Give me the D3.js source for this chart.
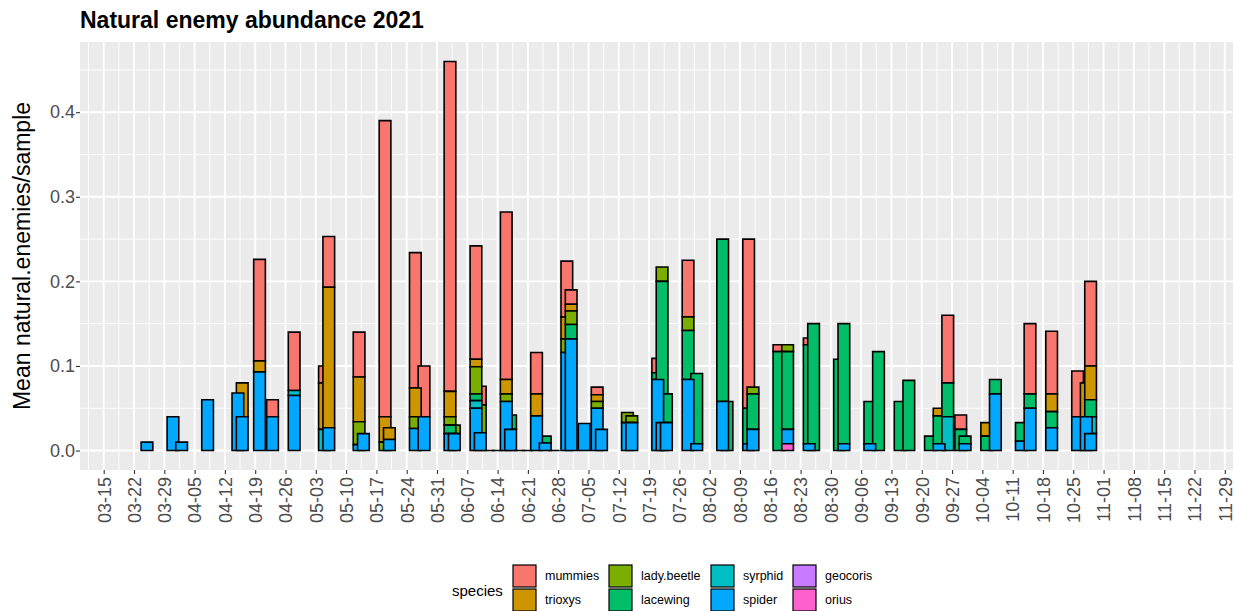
<!DOCTYPE html>
<html>
<head>
<meta charset="utf-8">
<script src="https://cdn.jsdelivr.net/npm/d3@7"></script>
<style>
  html, body { margin: 0; padding: 0; background: #fff; }
  svg { display: block; font-family: "Liberation Sans", Arial, sans-serif; }
</style>
</head>
<body>
<svg id="chart" width="1235" height="611"></svg>
<script>
// Sampling dates (2021) and mean natural enemies per sample for each species
const dates = [
  "03-25","03-31","04-02","04-08","04-15","04-16","04-20","04-23","04-28","05-05",
  "05-06","05-13","05-14","05-19","05-20","05-26","05-28","06-03","06-04","06-09",
  "06-10","06-12","06-14","06-16","06-17","06-19","06-21","06-23","06-25","06-27",
  "06-30","07-01","07-04","07-07","07-08","07-14","07-15","07-21","07-22","07-23",
  "07-28","07-30","08-05","08-06","08-11","08-12","08-18","08-20","08-25","08-26",
  "09-01","09-02","09-08","09-10","09-15","09-17","09-22","09-24","09-26","09-29",
  "09-30","10-05","10-07","10-13","10-15","10-20","10-26","10-28","10-29"
];
const mummies = [
  0,0,0,0,0,0,0.120,0.020,0.069,0.020,
  0.060,0.053,0,0.350,0,0.160,0.060,0.390,0,0.134,
  0.022,0,0,0.198,0,0,0,0.049,0,0,
  0.066,0.017,0,0.009,0,0,0,0.017,0,0,
  0.067,0,0,0,0.200,0,0.008,0,0.008,0,
  0,0,0,0,0,0,0,0,0.080,0.017,
  0,0,0,0,0.083,0.074,0.054,0,0.100
];
const trioxys = [
  0,0,0,0,0,0.040,0.013,0,0,0.055,
  0.166,0.053,0,0.030,0.014,0.034,0,0.030,0,0.009,
  0,0,0,0.017,0,0,0,0.026,0,0,
  0.026,0.008,0,0.008,0,0,0,0,0,0,
  0,0,0,0,0,0,0,0,0,0,
  0,0,0,0,0,0,0,0.009,0,0,
  0,0.016,0,0,0,0.021,0,0.040,0.040
];
const ladyBeetle = [
  0,0,0,0,0,0,0,0,0,0,
  0,0.027,0,0.010,0,0.014,0,0.010,0.010,0.032,
  0.033,0,0,0.009,0,0,0,0,0,0,
  0.016,0.016,0,0.008,0,0.012,0.008,0,0.017,0,
  0.016,0,0,0,0,0.008,0,0.008,0,0,
  0,0,0,0,0,0,0,0,0,0,
  0,0,0,0,0,0,0,0,0
];
const lacewing = [
  0,0,0,0,0,0,0,0,0,0,
  0,0,0,0,0,0,0,0.010,0,0.008,
  0,0,0,0,0.017,0,0,0,0.008,0,
  0,0.017,0,0,0,0,0,0.008,0.167,0.034,
  0.058,0.083,0.192,0.058,0.042,0.042,0.117,0.092,0.117,0.150,
  0.108,0.142,0.050,0.117,0.058,0.083,0.017,0.033,0.040,0.025,
  0.009,0.017,0.017,0.022,0.017,0.019,0,0,0.020
];
const syrphid = [
  0,0,0,0,0,0,0,0,0.006,0.025,
  0,0,0,0,0,0,0,0,0,0.009,
  0,0,0,0,0,0,0,0,0,0,
  0,0,0,0,0,0,0,0,0,0,
  0,0,0,0,0,0,0,0,0,0,
  0,0,0,0,0,0,0,0,0.040,0,
  0,0,0,0,0,0,0,0,0.020
];
const spider = [
  0.010,0.040,0.010,0.060,0.068,0.040,0.093,0.040,0.065,0,
  0.027,0.007,0.020,0,0.013,0.026,0.040,0.020,0.020,0.050,
  0.021,0,0,0.058,0.025,0,0,0.041,0.009,0,
  0.116,0.132,0.032,0.050,0.025,0.033,0.033,0.084,0.033,0.033,
  0.084,0.008,0.058,0,0.008,0.025,0,0.017,0.008,0,
  0,0.008,0.008,0,0,0,0,0.008,0,0,
  0.008,0,0.067,0.011,0.050,0.027,0.040,0.040,0.020
];
const geocoris = new Array(dates.length).fill(0);
const orius = dates.map(d => d === "08-20" ? 0.008 : 0);

// Species in legend order; stacking puts the first one on top
const speciesNames = ["mummies","trioxys","lady.beetle","lacewing","syrphid","spider","geocoris","orius"];
const speciesValues = [mummies, trioxys, ladyBeetle, lacewing, syrphid, spider, geocoris, orius];
const speciesColors = ["#F8766D","#CD9600","#7CAE00","#00BE67","#00BFC4","#00A9FF","#C77CFF","#FF61CC"];

// Weekly axis breaks
const breakLabels = [
  "03-15","03-22","03-29","04-05","04-12","04-19","04-26","05-03","05-10","05-17",
  "05-24","05-31","06-07","06-14","06-21","06-28","07-05","07-12","07-19","07-26",
  "08-02","08-09","08-16","08-23","08-30","09-06","09-13","09-20","09-27","10-04",
  "10-11","10-18","10-25","11-01","11-08","11-15","11-22","11-29"
];
const yBreaks = [0, 0.1, 0.2, 0.3, 0.4];

const DAY = 864e5;
const parse = s => new Date(Date.UTC(2021, +s.slice(0, 2) - 1, +s.slice(3, 5)));
const fmt = d3.utcFormat("%m-%d");

const svg = d3.select("#chart");
const panel = { left: 80, right: 1233, top: 42, bottom: 470 };

const first = parse(breakLabels[0]);
const x = d3.scaleUtc()
  .domain([new Date(+first - 5.475 * DAY), new Date(+first + 260.9 * DAY)])
  .range([panel.left, panel.right]);
const y = d3.scaleLinear()
  .domain([-0.023, 0.483])
  .range([panel.bottom, panel.top]);

const barDays = 2.7;

// Panel background
svg.append("rect")
  .attr("x", panel.left).attr("y", panel.top)
  .attr("width", panel.right - panel.left).attr("height", panel.bottom - panel.top)
  .attr("fill", "#EBEBEB");

const grid = svg.append("g");
const breakDates = breakLabels.map(parse);
// minor vertical grid (half way between weekly breaks)
const minorX = [];
for (let i = -1; i < breakDates.length; i++) {
  const base = i < 0 ? +breakDates[0] - 7 * DAY : +breakDates[i];
  minorX.push(new Date(base + 3.5 * DAY));
}
minorX.filter(d => x(d) > panel.left && x(d) < panel.right).forEach(d => {
  grid.append("line").attr("x1", x(d)).attr("x2", x(d))
    .attr("y1", panel.top).attr("y2", panel.bottom)
    .attr("stroke", "#fff").attr("stroke-width", 0.9);
});
[0.05, 0.15, 0.25, 0.35, 0.45].forEach(v => {
  grid.append("line").attr("x1", panel.left).attr("x2", panel.right)
    .attr("y1", y(v)).attr("y2", y(v))
    .attr("stroke", "#fff").attr("stroke-width", 0.9);
});
breakDates.forEach(d => {
  grid.append("line").attr("x1", x(d)).attr("x2", x(d))
    .attr("y1", panel.top).attr("y2", panel.bottom)
    .attr("stroke", "#fff").attr("stroke-width", 1.9);
});
yBreaks.forEach(v => {
  grid.append("line").attr("x1", panel.left).attr("x2", panel.right)
    .attr("y1", y(v)).attr("y2", y(v))
    .attr("stroke", "#fff").attr("stroke-width", 1.9);
});

// Stack each date: bottom layer is the last species
const segments = speciesNames.map(() => []);
dates.forEach((ds, i) => {
  let acc = 0;
  for (let s = speciesNames.length - 1; s >= 0; s--) {
    const v = speciesValues[s][i];
    segments[s].push({ date: parse(ds), y0: acc, y1: acc + v, value: v, allZero: false });
    acc += v;
  }
  if (acc === 0) segments[0][i].allZero = true;
});

const bars = svg.append("g").attr("stroke", "#000").attr("stroke-width", 1.6);
speciesNames.forEach((name, s) => {
  bars.append("g").attr("fill", speciesColors[s])
    .selectAll("path")
    .data(segments[s].filter(d => d.value > 0 || d.allZero))
    .join("path")
    .attr("d", d => {
      const x0 = x(new Date(+d.date - barDays / 2 * DAY));
      const x1 = x(new Date(+d.date + barDays / 2 * DAY));
      const yTop = y(d.y1), yBot = y(d.y0);
      return `M${x0},${yBot}H${x1}V${yTop}H${x0}Z`;
    });
});

// Axes
const xAxis = d3.axisBottom(x).tickValues(breakDates).tickFormat(fmt).tickSize(4).tickSizeOuter(0);
const gx = svg.append("g").attr("transform", `translate(0,${panel.bottom})`).call(xAxis);
gx.select(".domain").remove();
gx.selectAll(".tick line").attr("stroke", "#333").attr("stroke-width", 1.1);
gx.selectAll(".tick text")
  .attr("fill", "#4D4D4D").attr("font-size", 18)
  .attr("transform", "rotate(-90)")
  .attr("text-anchor", "end")
  .attr("x", -7).attr("y", 0).attr("dy", "0.35em");

const yAxis = d3.axisLeft(y).tickValues(yBreaks).tickFormat(d3.format(".1f")).tickSize(4).tickSizeOuter(0);
const gy = svg.append("g").attr("transform", `translate(${panel.left},0)`).call(yAxis);
gy.select(".domain").remove();
gy.selectAll(".tick line").attr("stroke", "#333").attr("stroke-width", 1.1);
gy.selectAll(".tick text").attr("fill", "#4D4D4D").attr("font-size", 18).attr("x", -5);

// Titles
svg.append("text").attr("x", 80).attr("y", 28)
  .attr("font-size", 23).attr("font-weight", "bold").attr("fill", "#000")
  .text("Natural enemy abundance 2021");
svg.append("text")
  .attr("transform", `translate(30,${(panel.top + panel.bottom) / 2}) rotate(-90)`)
  .attr("text-anchor", "middle").attr("font-size", 23).attr("fill", "#000")
  .text("Mean natural.enemies/sample");

// Legend: two rows, filled column by column
const legend = svg.append("g");
legend.append("text").attr("x", 452).attr("y", 596).attr("font-size", 15).attr("fill", "#000").text("species");
const colX = [513, 609, 711, 793];
const rowY = [565, 589];
speciesNames.forEach((name, s) => {
  const cx = colX[Math.floor(s / 2)], cy = rowY[s % 2];
  legend.append("rect").attr("x", cx).attr("y", cy).attr("width", 23).attr("height", 22)
    .attr("fill", speciesColors[s]).attr("stroke", "#000").attr("stroke-width", 1.2);
  legend.append("text").attr("x", cx + 32).attr("y", cy + 11).attr("dy", "0.35em")
    .attr("font-size", 12.5).attr("fill", "#000").text(name);
});
</script>
</body>
</html>
